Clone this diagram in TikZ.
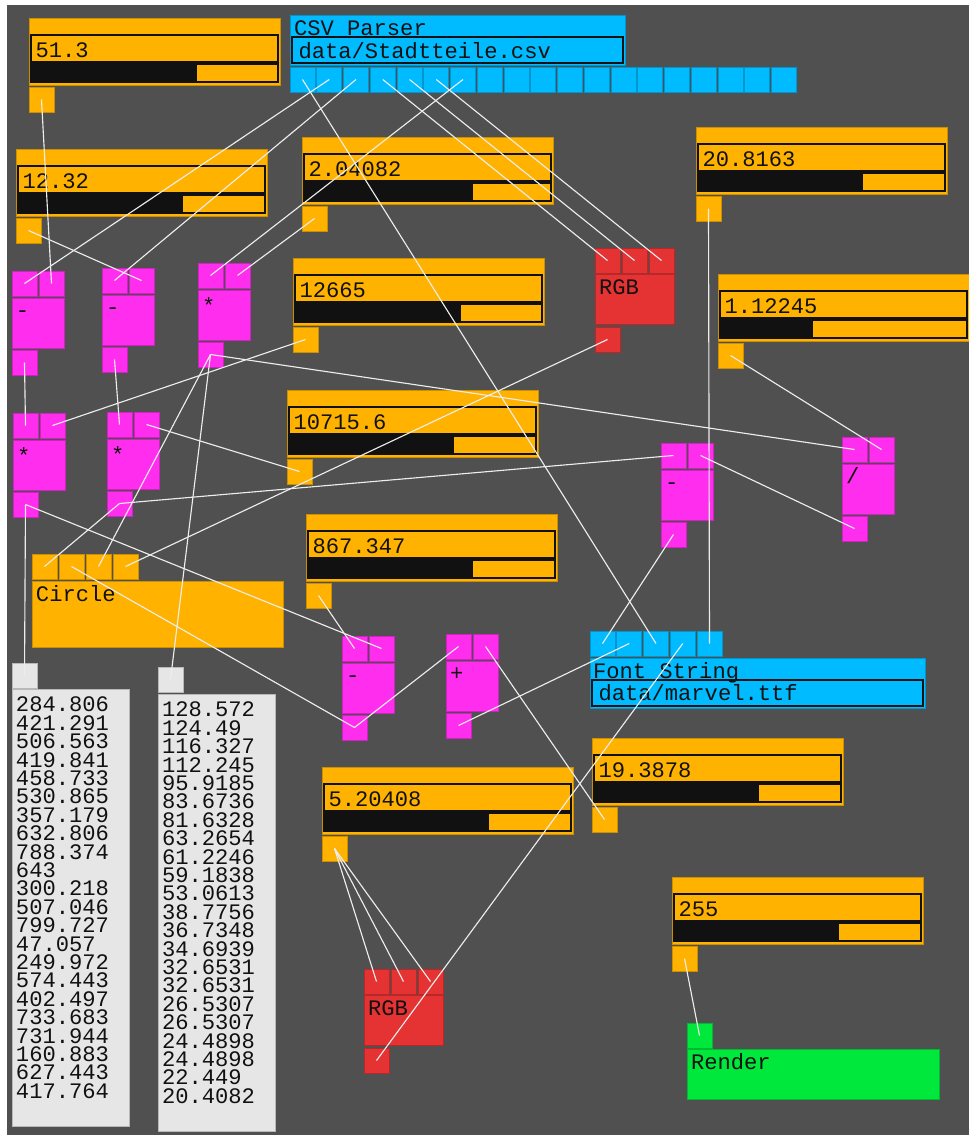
\documentclass[tikz,border=0pt]{standalone}
\usepackage{fontspec}
\newfontfamily\monofont{Liberation Mono}
\definecolor{bg}{HTML}{505050}
\definecolor{orng}{HTML}{FFB300}
\definecolor{cyn}{HTML}{00BBFF}
\definecolor{mag}{HTML}{FF2EEE}
\definecolor{rgbred}{HTML}{E53232}
\definecolor{grn}{HTML}{00E83C}
\definecolor{lgray}{HTML}{E6E6E6}
\definecolor{ink}{HTML}{111111}

% a value slider: name, left, top, end of the filled bar, value
\newcommand\slider[5]{%
  \node[box=orng, minimum width=188.25pt, minimum height=50.25pt] (#1) at (#2,#3) {};
  \draw[fieldline] (#2+2,#3+17) rectangle (#2+249,#3+44);
  \fill[ink] (#2+2,#3+46) rectangle (#4,#3+64);
  \draw[fieldline] (#2+2,#3+46) rectangle (#2+249,#3+64);
  \node[val] (#1-v) at (#2+6.5,#3+39) {#5};
  \node[port=orng] (#1-o) at (#2,#3+69) {};
}
% a two-input operator: name, left, top, symbol
\newcommand\opnode[4]{%
  \node[port=mag] (#1-i0) at (#2,#3) {};
  \node[port=mag] (#1-i1) at (#2+27,#3) {};
  \node[box=mag, minimum width=39pt, minimum height=37.5pt] (#1) at (#2,#3+27) {};
  \node[val] (#1-l) at (#2+4,#3+46) {#4};
  \node[port=mag] (#1-o) at (#2,#3+79) {};
}
% an RGB colour node: name, left, top
\newcommand\rgbnode[3]{%
  \node[port=rgbred] (#1-i0) at (#2,#3) {};
  \node[port=rgbred] (#1-i1) at (#2+27,#3) {};
  \node[port=rgbred] (#1-i2) at (#2+54,#3) {};
  \node[box=rgbred, minimum width=59.25pt, minimum height=37.5pt] (#1) at (#2,#3+26) {};
  \node[val] (#1-l) at (#2+4,#3+46) {RGB};
  \node[port=rgbred] (#1-o) at (#2,#3+79) {};
}

\begin{document}
\begin{tikzpicture}[x=0.75pt,y=-0.75pt,
  box/.style={draw=#1!80!black, fill=#1, line width=0.5pt, inner sep=0pt, outer sep=0pt, anchor=north west},
  port/.style={box=#1, minimum width=18.75pt, minimum height=18.75pt},
  fieldline/.style={draw=ink, line width=1pt},
  monotext/.style={inner sep=0pt, outer sep=0pt, text=ink,
    font=\monofont\fontsize{16.6pt}{13.8pt}\selectfont},
  val/.style={monotext, anchor=base west},
  listtext/.style={monotext, anchor=north west, align=left},
  wire/.style={draw=white!93!black, line width=0.85pt}]

\useasboundingbox (0,0) rectangle (969,1135);
\fill[white] (0,0) rectangle (969,1135);
\fill[bg] (7,5) rectangle (969,1135);

% ---- sliders ----
\slider{sA}{29}{18}{197}{51.3}
\slider{sB}{16}{149}{183}{12.32}
\slider{sC}{302}{137}{473}{2.04082}
\slider{sD}{696}{127}{863}{20.8163}
\slider{sE}{293}{258}{461}{12665}
\slider{sF}{718}{274}{813}{1.12245}
\slider{sG}{287}{390}{454}{10715.6}
\slider{sH}{306}{514}{473}{867.347}
\slider{sI}{592}{738}{759}{19.3878}
\slider{sJ}{322}{767}{489}{5.20408}
\slider{sK}{672}{877}{839}{255}

% ---- CSV parser ----
\node[box=cyn, minimum width=251.25pt, minimum height=37.5pt] (csv) at (290,15) {};
\node[val] (csv-t) at (294,35) {CSV Parser};
\draw[fieldline] (292,37) rectangle (623,63);
\node[val] (csv-f) at (298.5,58) {data/Stadtteile.csv};
\foreach \k in {0,...,18}
  \node[port=cyn] (csv-p\k) at ({290+26.75*\k},67) {};

% ---- operators ----
\opnode{m1}{12}{271}{-}
\opnode{m2}{102}{268}{-}
\opnode{x1}{198}{263}{\raisebox{-3.5pt}{*}}
\opnode{x2}{13}{413}{\raisebox{-3.5pt}{*}}
\opnode{x3}{107}{412}{\raisebox{-3.5pt}{*}}
\opnode{m3}{661}{443}{-}
\opnode{dv}{842}{437}{/}
\opnode{m4}{342}{636}{-}
\opnode{pl}{446}{634}{+}

\rgbnode{rgbA}{595}{248}
\rgbnode{rgbB}{364}{969}

% ---- circle ----
\foreach \k in {0,...,3}
  \node[port=orng] (circ-i\k) at ({32+27*\k},554) {};
\node[box=orng, minimum width=188.25pt, minimum height=49.5pt] (circ) at (32,581) {};
\node[val] (circ-l) at (36,601) {Circle};

% ---- font string ----
\foreach \k in {0,...,4}
  \node[port=cyn] (fs-i\k) at ({590+26.75*\k},631) {};
\node[box=cyn, minimum width=251.25pt, minimum height=37.5pt] (fs) at (590,658) {};
\node[val] (fs-l) at (593,678) {Font String};
\draw[fieldline] (592,680) rectangle (923,706);
\node[val] (fs-f) at (598.5,700) {data/marvel.ttf};

% ---- render ----
\node[port=grn] (rnd-i) at (687,1023) {};
\node[box=grn, minimum width=189pt, minimum height=37.5pt] (rnd) at (687,1049) {};
\node[val] (rnd-l) at (691,1069) {Render};

% ---- value lists ----
\node[port=lgray] (lsA-i) at (12,663) {};
\node[box=lgray, minimum width=87.75pt, minimum height=327.75pt] (lsA) at (12,689) {};
\node[listtext] (lsA-t) at (16,697) {284.806\\421.291\\506.563\\419.841\\458.733\\530.865\\357.179\\632.806\\788.374\\643\\300.218\\507.046\\799.727\\47.057\\249.972\\574.443\\402.497\\733.683\\731.944\\160.883\\627.443\\417.764};

\node[port=lgray] (lsB-i) at (158,667) {};
\node[box=lgray, minimum width=87.75pt, minimum height=327.75pt] (lsB) at (158,694) {};
\node[listtext] (lsB-t) at (162,702) {128.572\\124.49\\116.327\\112.245\\95.9185\\83.6736\\81.6328\\63.2654\\61.2246\\59.1838\\53.0613\\38.7756\\36.7348\\34.6939\\32.6531\\32.6531\\26.5307\\26.5307\\24.4898\\24.4898\\22.449\\20.4082};

% ---- wires ----
\draw[wire] (csv-p0.center) -- (fs-i2.center);
\draw[wire] (csv-p1.center) -- (m1-i0.center);
\draw[wire] (csv-p2.center) -- (m2-i0.center);
\draw[wire] (csv-p3.center) -- (rgbA-i0.center);
\draw[wire] (csv-p4.center) -- (rgbA-i1.center);
\draw[wire] (csv-p5.center) -- (rgbA-i2.center);
\draw[wire] (csv-p6.center) -- (x1-i0.center);
\draw[wire] (sA-o.center) -- (m1-i1.center);
\draw[wire] (sB-o.center) -- (m2-i1.center);
\draw[wire] (sC-o.center) -- (x1-i1.center);
\draw[wire] (m1-o.center) -- (x2-i0.center);
\draw[wire] (m2-o.center) -- (x3-i0.center);
\draw[wire] (sE-o.center) -- (x2-i1.center);
\draw[wire] (sG-o.center) -- (x3-i1.center);
\draw[wire] (x1-o.center) -- (dv-i0.center);
\draw[wire] (x1-o.center) -- (lsB-i.center);
\draw[wire] (x1-o.center) -- (circ-i2.center);
\draw[wire] (x2-o.center) -- (lsA-i.center);
\draw[wire] (x2-o.center) -- (m4-i1.center);
\draw[wire] (x3-o.center) -- (circ-i0.center);
\draw[wire] (x3-o.center) -- (m3-i0.center);
\draw[wire] (sH-o.center) -- (m4-i0.center);
\draw[wire] (m4-o.center) -- (circ-i1.center);
\draw[wire] (m4-o.center) -- (pl-i0.center);
\draw[wire] (pl-o.center) -- (fs-i1.center);
\draw[wire] (sI-o.center) -- (pl-i1.center);
\draw[wire] (m3-o.center) -- (fs-i0.center);
\draw[wire] (rgbB-o.center) -- (fs-i3.center);
\draw[wire] (sD-o.center) -- (fs-i4.center);
\draw[wire] (rgbA-o.center) -- (circ-i3.center);
\draw[wire] (sF-o.center) -- (dv-i1.center);
\draw[wire] (dv-o.center) -- (m3-i1.center);
\draw[wire] (sJ-o.center) -- (rgbB-i0.center);
\draw[wire] (sJ-o.center) -- (rgbB-i1.center);
\draw[wire] (sJ-o.center) -- (rgbB-i2.center);
\draw[wire] (sK-o.center) -- (rnd-i.center);
\end{tikzpicture}
\end{document}
